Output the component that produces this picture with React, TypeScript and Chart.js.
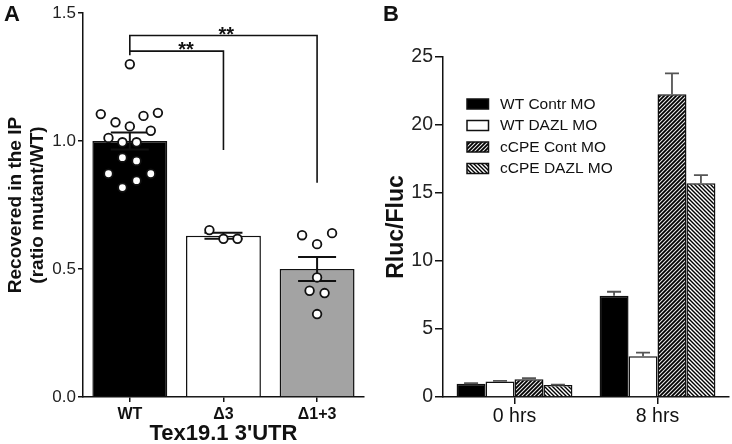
import React, { useEffect, useRef } from 'react';
import { Chart, registerables } from 'chart.js';

Chart.register(...registerables);

const FONT = "'Liberation Sans', Arial, Helvetica, sans-serif";
const INK = '#111111';

// ---------- Panel A data ----------
const categoriesA = ['WT', 'Δ3', 'Δ1+3'];
const meansA = [1.0, 0.63, 0.5];
const semA = [0.033, 0.012, 0.047];
const barColorsA = ['#000000', '#ffffff', '#a3a3a3'];
// individual points: [offset within category, value]
const pointsWT = [
  [0, 1.3], [-0.31, 1.105], [-0.153, 1.073], [0, 1.057], [0.146, 1.098], [0.3, 1.11],
  [0.224, 1.04], [-0.228, 1.012], [-0.079, 0.995], [0.072, 0.995], [-0.079, 0.935],
  [0.072, 0.922], [-0.228, 0.872], [0.224, 0.872], [0.072, 0.845], [-0.079, 0.818],
];
const pointsD3 = [[-0.15, 0.652], [0, 0.618], [0.15, 0.618]];
const pointsD13 = [
  [-0.16, 0.632], [0, 0.597], [0.16, 0.64], [0, 0.467], [-0.08, 0.415], [0.08, 0.406], [0, 0.324],
];
const yTicksA = [0, 0.5, 1.0, 1.5];
// significance brackets: from / to category, bar height, leg ends, label
const comparisons = [
  { from: 0, to: 1, y: 1.351, leftEnd: 1.335, rightEnd: 0.965, label: '**', labelX: 0.6 },
  { from: 0, to: 2, y: 1.412, leftEnd: 1.351, rightEnd: 0.837, label: '**', labelX: 1.03 },
];

// ---------- Panel B data ----------
const groupsB = ['0 hrs', '8 hrs'];
const seriesNamesB = ['WT Contr MO', 'WT DAZL MO', 'cCPE Cont MO', 'cCPE DAZL MO'];
const wtContr = [0.98, 7.44];
const wtDazl = [1.14, 3.0];
const ccpeCont = [1.3, 22.27];
const ccpeDazl = [0.88, 15.71];
const wtContrErr = [0.03, 0.3];
const wtDazlErr = [0.05, 0.27];
const ccpeContErr = [0.08, 1.52];
const ccpeDazlErr = [0.03, 0.6];
const yTicksB = [0, 5, 10, 15, 20, 25];

function makeHatch(dir: '/' | '\\', bg: string, fg: string, lw: number, s: number) {
  const c = document.createElement('canvas');
  c.width = s;
  c.height = s;
  const g = c.getContext('2d')!;
  g.fillStyle = bg;
  g.fillRect(0, 0, s, s);
  g.strokeStyle = fg;
  g.lineWidth = lw;
  g.beginPath();
  if (dir === '/') {
    g.moveTo(-1, s + 1); g.lineTo(s + 1, -1);
    g.moveTo(-1, 1); g.lineTo(1, -1);
    g.moveTo(s - 1, s + 1); g.lineTo(s + 1, s - 1);
  } else {
    g.moveTo(-1, -1); g.lineTo(s + 1, s + 1);
    g.moveTo(s - 1, -1); g.lineTo(s + 1, 1);
    g.moveTo(-1, s - 1); g.lineTo(1, s + 1);
  }
  g.stroke();
  return g.createPattern(c, 'repeat') as CanvasPattern;
}

const errorBarPlugin = {
  id: 'errorBars',
  afterDatasetDraw(chart: any, args: any) {
    const ds: any = chart.data.datasets[args.index];
    if (!ds.errors) return;
    const meta = args.meta;
    const ys = chart.scales[meta.yAxisID];
    const ctx = chart.ctx;
    const st = ds.errorStyle;
    ctx.save();
    ctx.strokeStyle = st.color;
    ctx.lineWidth = st.width;
    meta.data.forEach((el: any, i: number) => {
      const v = ds.data[i];
      const e = ds.errors[i];
      const x = el.x;
      const yHi = ys.getPixelForValue(v + e);
      const yLo = st.twoSided ? ys.getPixelForValue(v - e) : ys.getPixelForValue(v);
      const h = st.cap / 2;
      ctx.beginPath();
      ctx.moveTo(x, yLo);
      ctx.lineTo(x, yHi);
      ctx.moveTo(x - h, yHi);
      ctx.lineTo(x + h, yHi);
      if (st.twoSided) {
        ctx.moveTo(x - h, yLo);
        ctx.lineTo(x + h, yLo);
      }
      ctx.stroke();
    });
    ctx.restore();
  },
};

const textPluginA = {
  id: 'textA',
  afterDraw(chart: any) {
    const ctx = chart.ctx;
    const xs = chart.scales.xs;
    const y = chart.scales.y;
    ctx.save();
    ctx.fillStyle = INK;
    ctx.textAlign = 'left';
    ctx.textBaseline = 'alphabetic';
    ctx.font = `bold 22px ${FONT}`;
    ctx.fillText('A', 4, 20.5);
    ctx.font = `bold 20px ${FONT}`;
    ctx.textAlign = 'center';
    comparisons.forEach((c) => {
      ctx.fillText(c.label, xs.getPixelForValue(c.labelX), y.getPixelForValue(c.y) + 5);
    });
    ctx.restore();
  },
};

const textPluginB = {
  id: 'textB',
  afterDraw(chart: any) {
    const ctx = chart.ctx;
    const area = chart.chartArea;
    ctx.save();
    ctx.fillStyle = INK;
    ctx.textAlign = 'left';
    ctx.textBaseline = 'alphabetic';
    ctx.font = `bold 22px ${FONT}`;
    ctx.fillText('B', 13, 20.5);
    // legend
    ctx.font = `15.5px ${FONT}`;
    ctx.textBaseline = 'middle';
    chart.data.datasets.forEach((ds: any, i: number) => {
      const cy = area.top + 47 + i * 21.5;
      const bx = area.left + 24;
      ctx.fillStyle = ds.backgroundColor;
      ctx.fillRect(bx, cy - 5, 21.5, 10);
      ctx.strokeStyle = INK;
      ctx.lineWidth = 1.5;
      ctx.strokeRect(bx, cy - 5, 21.5, 10);
      ctx.fillStyle = INK;
      ctx.fillText(ds.label, area.left + 57, cy + 0.5);
    });
    ctx.restore();
  },
};

function axisCommon(tickLength: number) {
  return {
    grid: {
      display: true,
      drawOnChartArea: false,
      drawTicks: true,
      tickLength,
      offset: false,
      color: INK,
      lineWidth: 1.5,
    },
    border: { display: true, color: INK, width: 1.5 },
  };
}

function PanelA() {
  const ref = useRef<HTMLCanvasElement>(null);
  useEffect(() => {
    const toXY = (pts: number[][], idx: number) => pts.map(([o, v]) => ({ x: idx + o, y: v }));
    const bracketSets = comparisons.map((c) => ({
      type: 'line',
      xAxisID: 'xs',
      data: [
        { x: c.from, y: c.leftEnd },
        { x: c.from, y: c.y },
        { x: c.to, y: c.y },
        { x: c.to, y: c.rightEnd },
      ],
      borderColor: INK,
      borderWidth: 1.6,
      pointRadius: 0,
      tension: 0,
      fill: false,
      order: 2,
    }));
    const chart = new Chart(ref.current!, {
      type: 'bar',
      data: {
        labels: categoriesA,
        datasets: [
          {
            type: 'bar',
            data: meansA,
            backgroundColor: barColorsA,
            borderColor: INK,
            borderWidth: 1.5,
            categoryPercentage: 0.8,
            barPercentage: 1,
            grouped: false,
            order: 3,
            errors: semA,
            errorStyle: { color: INK, width: 2, cap: 38, twoSided: true },
          },
          ...bracketSets,
          {
            type: 'scatter',
            xAxisID: 'xs',
            data: [...toXY(pointsWT, 0), ...toXY(pointsD3, 1), ...toXY(pointsD13, 2)],
            backgroundColor: '#ffffff',
            borderColor: INK,
            borderWidth: 1.8,
            pointRadius: 4.3,
            order: 1,
          },
        ] as any,
      },
      options: {
        animation: false,
        responsive: false,
        layout: { padding: { left: 0, right: 4, top: 13, bottom: 0 } },
        plugins: { legend: { display: false }, tooltip: { enabled: false } },
        scales: {
          x: {
            type: 'category',
            offset: true,
            ...axisCommon(5),
            ticks: { color: INK, padding: 3, font: { family: FONT, size: 16, weight: 'bold' } },
            title: {
              display: true,
              text: "Tex19.1 3'UTR",
              color: INK,
              padding: 0,
              font: { family: FONT, size: 22, weight: 'bold', lineHeight: 0.9 },
            },
            afterFit: (s: any) => { s.height = 47; },
          },
          xs: {
            type: 'linear',
            min: -0.5,
            max: 2.5,
            offset: false,
            grace: 0,
            display: false,
            position: 'bottom',
          },
          y: {
            min: 0,
            max: 1.5,
            ...axisCommon(5),
            afterBuildTicks: (s: any) => { s.ticks = yTicksA.map((v) => ({ value: v })); },
            ticks: {
              color: '#222',
              padding: 2,
              font: { family: FONT, size: 17 },
              callback: (v: any) => Number(v).toFixed(1),
            },
            title: {
              display: true,
              text: ['Recovered in the IP', '(ratio mutant/WT)'],
              color: INK,
              padding: { top: 4.5, bottom: 0 },
              font: { family: FONT, size: 19, weight: 'bold', lineHeight: 1.18 },
            },
            afterFit: (s: any) => { s.width = 83; },
          },
        },
      } as any,
      plugins: [errorBarPlugin, textPluginA],
    });
    return () => chart.destroy();
  }, []);
  return <canvas ref={ref} width={370} height={444} style={{ position: 'absolute', left: 0, top: 0 }} />;
}

function PanelB() {
  const ref = useRef<HTMLCanvasElement>(null);
  useEffect(() => {
    const dark = makeHatch('/', '#000000', '#e8e8e8', 1.1, 4);
    const light = makeHatch('\\', '#ffffff', '#000000', 1.4, 4);
    const values = [wtContr, wtDazl, ccpeCont, ccpeDazl];
    const errs = [wtContrErr, wtDazlErr, ccpeContErr, ccpeDazlErr];
    const fills: any[] = ['#000000', '#ffffff', dark, light];
    const chart = new Chart(ref.current!, {
      type: 'bar',
      data: {
        labels: groupsB,
        datasets: seriesNamesB.map((name, i) => ({
          label: name,
          data: values[i],
          backgroundColor: fills[i],
          borderColor: INK,
          borderWidth: 1.5,
          categoryPercentage: 0.81,
          barPercentage: 1,
          errors: errs[i],
          errorStyle: { color: '#555', width: 1.8, cap: 14, twoSided: false },
        })) as any,
      },
      options: {
        animation: false,
        responsive: false,
        layout: { padding: { left: 0, right: 3, top: 57, bottom: 0 } },
        plugins: { legend: { display: false }, tooltip: { enabled: false } },
        scales: {
          x: {
            type: 'category',
            offset: true,
            ...axisCommon(7),
            ticks: { color: INK, padding: 1, font: { family: FONT, size: 19.5 } },
            afterFit: (s: any) => { s.height = 47; },
          },
          y: {
            min: 0,
            max: 25,
            ...axisCommon(8),
            afterBuildTicks: (s: any) => { s.ticks = yTicksB.map((v) => ({ value: v })); },
            ticks: { color: '#222', padding: 2, font: { family: FONT, size: 19.5 } },
            title: {
              display: true,
              text: 'Rluc/Fluc',
              color: INK,
              padding: { top: 13, bottom: 0 },
              font: { family: FONT, size: 23, weight: 'bold', lineHeight: 1.2 },
            },
            afterFit: (s: any) => { s.width = 73; },
          },
        },
      } as any,
      plugins: [errorBarPlugin, textPluginB],
    });
    return () => chart.destroy();
  }, []);
  return <canvas ref={ref} width={362} height={444} style={{ position: 'absolute', left: 370, top: 0 }} />;
}

export default function App() {
  return (
    <div style={{ position: 'absolute', left: 0, top: 0, width: 732, height: 444, background: '#ffffff', overflow: 'hidden' }}>
      <PanelA />
      <PanelB />
    </div>
  );
}
